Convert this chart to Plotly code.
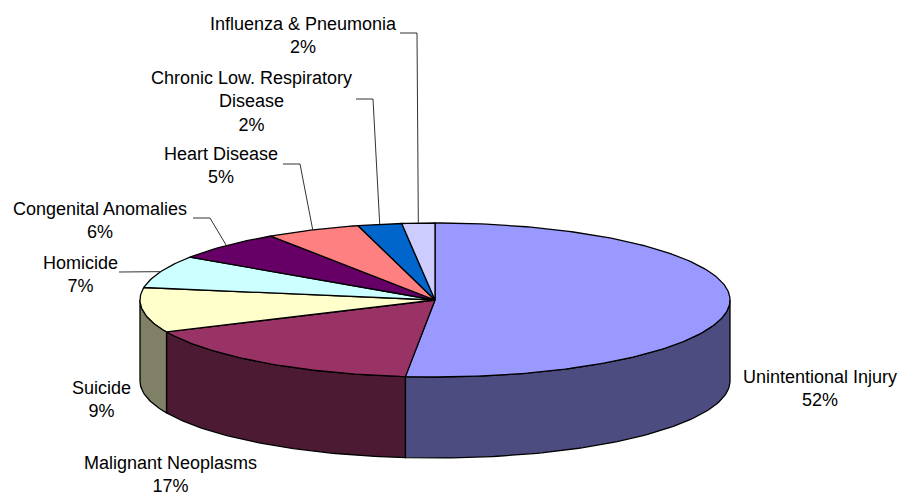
import numpy as np
import plotly.graph_objects as go

# ---- data ----
categories = ["Unintentional Injury", "Malignant Neoplasms", "Suicide", "Homicide",
              "Congenital Anomalies", "Heart Disease", "Chronic Low. Respiratory<br>Disease",
              "Influenza & Pneumonia"]
values = [51.6, 16.6, 9.4, 6.8, 6.2, 5.2, 2.4, 1.8]
top_colors = ["#9999FF", "#993366", "#FFFFCC", "#CCFFFF", "#660066", "#FF8080", "#0066CC", "#CCCCFF"]

# ---- layout / geometry (pixel-like data coordinates) ----
W, H = 900, 497
cx, cy, rx, ry, depth = 435.0, 300.0, 295.0, 77.0, 81.0
label_pos = [(820, 388), (170, 474), (101, 399), (80, 274), (100, 220), (221, 165), (251, 101), (303, 35)]
leader_start = [None, None, None, (119, 272), (193, 218), (283, 164), (356, 99), (400, 33)]


def darker(hexc, f=0.5):
    r, g, b = int(hexc[1:3], 16), int(hexc[3:5], 16), int(hexc[5:7], 16)
    return "#%02X%02X%02X" % (round(r * f), round(g * f), round(b * f))


def arc(a, b, n=None, dy=0.0):
    if n is None:
        n = max(4, int(abs(b - a) / 1.0) + 2)
    t = np.radians(np.linspace(a, b, n))
    return cx + rx * np.sin(t), cy - ry * np.cos(t) + dy


fig = go.Figure()
total = sum(values)
angles = np.concatenate([[0], np.cumsum(values) / total * 360.0])

# side walls (front half only)
for i, c in enumerate(top_colors):
    a, b = angles[i], angles[i + 1]
    s, e = max(a, 90.0), min(b, 270.0)
    if s < e:
        xt, yt = arc(s, e)
        xb, yb = arc(e, s, dy=depth)
        xs = list(xt) + list(xb) + [xt[0]]
        ys = list(yt) + list(yb) + [yt[0]]
        fig.add_trace(go.Scatter(x=xs, y=ys, mode="lines", fill="toself",
                                 fillcolor=darker(c), line=dict(color="black", width=1.3),
                                 hoverinfo="skip", showlegend=False))

# top faces
for i, c in enumerate(top_colors):
    a, b = angles[i], angles[i + 1]
    xa, ya = arc(a, b)
    xs = [cx] + list(xa) + [cx]
    ys = [cy] + list(ya) + [cy]
    fig.add_trace(go.Scatter(x=xs, y=ys, mode="lines", fill="toself",
                             fillcolor=c, line=dict(color="black", width=1.3),
                             hoverinfo="skip", showlegend=False))

# leader lines
for i, st in enumerate(leader_start):
    if st is None:
        continue
    mid = (angles[i] + angles[i + 1]) / 2
    ax_, ay_ = arc(mid, mid, n=1)
    fig.add_trace(go.Scatter(x=[st[0], st[0] + 17, ax_[0]], y=[st[1], st[1], ay_[0]],
                             mode="lines", line=dict(color="#333333", width=1),
                             hoverinfo="skip", showlegend=False))

# labels
for i, name in enumerate(categories):
    pct = round(values[i] / total * 100)
    fig.add_annotation(x=label_pos[i][0], y=label_pos[i][1], xref="x", yref="y",
                       text=f"{name}<br>{pct}%", showarrow=False,
                       xanchor="center", yanchor="middle", align="center",
                       font=dict(family="Liberation Sans, Arial", size=18, color="black"))

fig.update_layout(width=W, height=H, autosize=False,
                  margin=dict(l=0, r=0, t=0, b=0),
                  paper_bgcolor="white", plot_bgcolor="white",
                  xaxis=dict(range=[0, W], visible=False, fixedrange=True),
                  yaxis=dict(range=[H, 0], visible=False, fixedrange=True),
                  hovermode=False)

fig.write_html("out.html", config={"displayModeBar": False},
               post_script="document.body.style.margin='0';document.body.style.overflow='hidden';")
